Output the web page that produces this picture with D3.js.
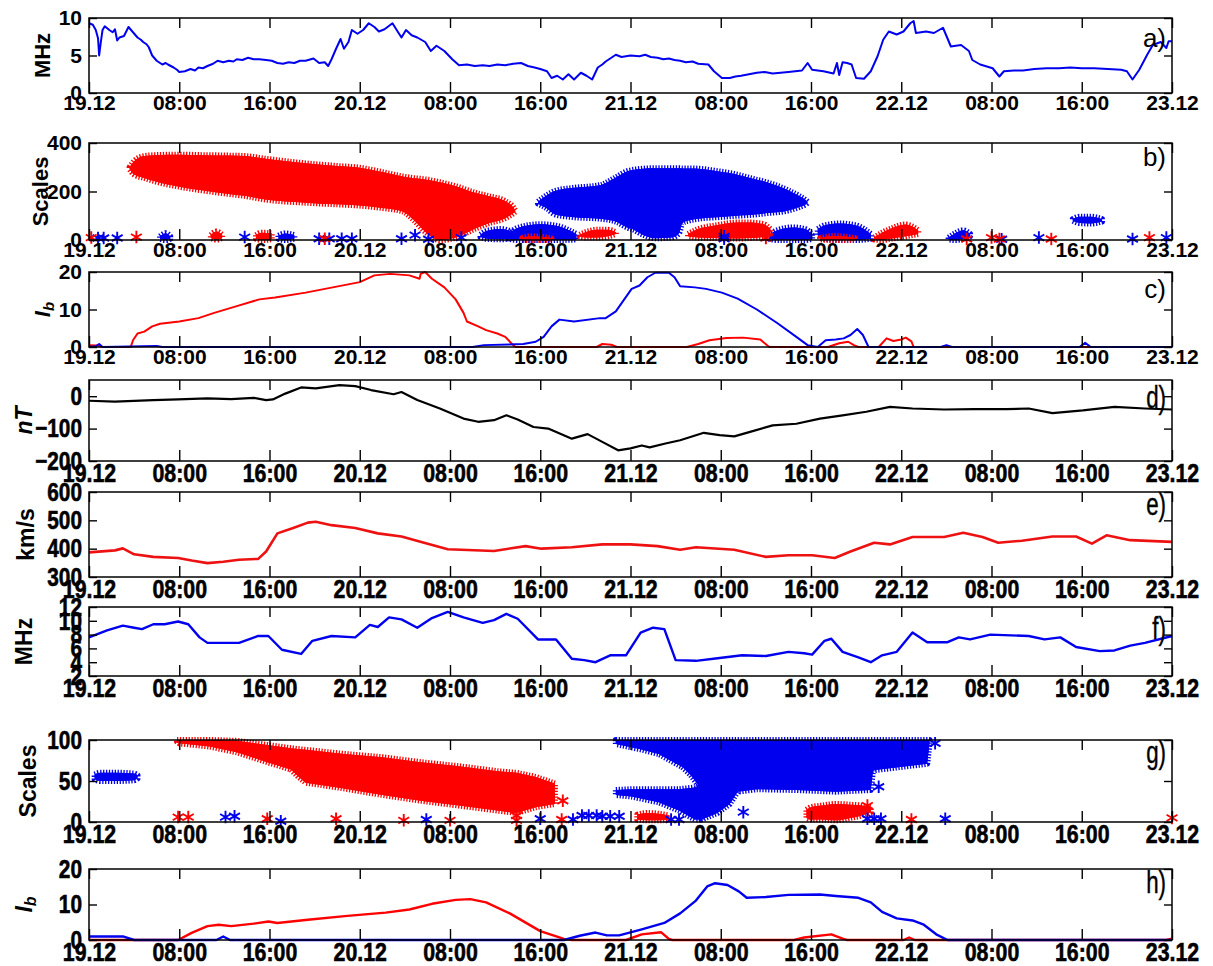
<!DOCTYPE html>
<html>
<head>
<meta charset="utf-8">
<script src="https://cdn.jsdelivr.net/npm/d3@7"></script>
<style>
  body { margin: 0; background: #fff; }
  svg { display: block; }
</style>
</head>
<body>
<svg id="fig" width="1213" height="966"></svg>
<script>
// ---------- time axis (hours since 19.12 00:00 UT) ----------
const tickHours = [0, 8, 16, 24, 32, 40, 48, 56, 64, 72, 80, 88, 96];
const tickLabels = ["19.12", "08:00", "16:00", "20.12", "08:00", "16:00", "21.12",
                    "08:00", "16:00", "22.12", "08:00", "16:00", "23.12"];

// ---------- a) critical frequency, MHz ----------
const foA = [[0,9.3],[0.34,9.1],[0.6,8.4],[0.8,7.3],[0.9,5.0],[1.05,6.8],[1.2,8.4],[1.4,8.9],[1.8,8.4],[2.1,8.1],[2.3,8.5],[2.5,7.0],[2.7,7.4],[3.1,7.6],[3.5,8.8],[3.9,8.1],[4.3,7.4],[4.6,7.1],[4.8,6.8],[5.1,6.5],[5.3,6.1],[5.6,5.0],[6.0,4.3],[6.3,4.0],[6.5,3.8],[6.8,4.0],[7.0,3.8],[7.5,3.4],[7.8,3.1],[8.0,2.8],[8.5,2.9],[9.0,3.2],[9.4,3.0],[9.7,3.4],[10.1,3.3],[10.5,3.6],[11.0,3.9],[11.4,4.3],[11.9,4.1],[12.4,4.3],[12.8,4.2],[13.1,4.5],[13.6,4.4],[14.1,4.7],[14.6,4.5],[15.1,4.5],[15.7,4.4],[16.2,4.3],[16.7,4.0],[17.2,3.9],[17.7,4.1],[18.2,4.0],[18.7,4.3],[19.2,4.3],[19.9,4.6],[20.4,4.0],[20.9,4.1],[21.2,3.6],[21.5,4.5],[21.9,5.9],[22.3,7.2],[22.6,5.9],[23.0,6.8],[23.3,8.4],[23.8,7.9],[24.3,8.4],[24.8,9.3],[25.3,8.8],[25.7,8.2],[26.2,8.5],[26.9,9.3],[27.4,8.1],[27.7,7.4],[28.1,8.4],[28.6,7.7],[29.1,7.4],[29.8,6.8],[30.3,5.6],[30.8,6.3],[31.5,5.6],[32.2,4.5],[32.8,3.7],[33.5,3.8],[34.2,3.6],[34.9,3.7],[35.5,3.6],[36.2,3.8],[36.9,3.7],[37.6,3.9],[38.3,4.0],[38.9,3.6],[39.5,3.4],[40.0,3.2],[40.6,2.9],[41.0,2.0],[41.5,2.3],[42.0,1.8],[42.5,2.5],[43.0,1.8],[43.6,2.7],[44.1,2.3],[44.6,1.8],[45.1,3.4],[45.5,3.8],[45.8,4.2],[46.3,4.7],[46.7,5.1],[47.2,4.8],[48,5.0],[48.8,4.9],[49.3,5.1],[49.8,4.8],[50.4,4.7],[50.9,4.5],[51.4,4.6],[51.9,4.4],[52.4,4.3],[52.9,4.1],[53.5,4.2],[54.0,3.9],[54.9,3.8],[55.4,2.9],[56.1,2.0],[56.8,2.0],[57.3,2.2],[57.8,2.3],[58.5,2.5],[59.2,2.7],[59.9,2.8],[60.6,2.6],[61.3,2.7],[62.0,2.8],[62.6,2.9],[63.2,3.0],[63.7,4.0],[64.1,3.1],[65.1,2.9],[66.0,2.6],[66.3,4.0],[66.5,2.4],[66.8,4.1],[67.2,4.0],[67.6,3.8],[68.0,2.0],[68.7,1.9],[69.3,2.9],[69.9,4.9],[70.4,7.1],[70.9,8.2],[71.6,7.8],[72.2,8.2],[72.8,9.3],[73.1,9.6],[73.3,8.0],[74.2,8.2],[74.9,8.0],[75.7,8.7],[76.4,6.2],[77.3,6.4],[78.0,5.6],[78.3,4.4],[79.0,3.8],[80.1,3.3],[80.7,2.2],[81.1,2.9],[82.0,3.0],[82.8,3.0],[83.8,3.2],[84.9,3.3],[86.0,3.3],[87.0,3.4],[88.0,3.3],[89.1,3.3],[90.3,3.2],[91.5,3.1],[92.0,2.9],[92.5,1.8],[93.1,3.1],[93.8,5.1],[94.3,6.4],[95.0,6.8],[95.5,6.0],[95.7,6.9],[96,6.9]];

// ---------- b) significant scales: regions [t, scaleLow, scaleHigh] ----------
const scalesB_redMain = [[3.6,292,300],[4.0,270,325],[4.9,256,346],[6,240,350],[8,220,352],[10,205,350],[12.4,190,348],[13.8,182,346],[15.8,166,334],[19.2,154,316],[22,147,305],[24,142,298],[26,132,280],[27.8,118,262],[28.8,82,255],[29.8,34,250],[31.1,0,238],[32.5,10,222],[34.2,46,195],[35.5,70,180],[36.9,90,160],[37.6,110,135],[37.8,118,120]];
const scalesB_blueMain = [[39.8,150,158],[40.6,130,185],[41.3,106,202],[43,94,215],[45.3,88,226],[46.7,76,258],[47.8,50,285],[48.1,46,288],[49.1,22,294],[50.2,7,296],[51.6,10,296],[52.3,28,296],[52.6,70,295],[53.3,82,295],[54,88,294],[55.7,94,284],[56.8,98,276],[59.2,106,248],[59.9,110,240],[62,122,204],[63,137,180],[63.6,150,161],[63.7,155,156]];
const scalesB_redSmall = [
  [[10.8,8,20],[11.3,2,35],[11.8,8,22]],
  [[14.8,5,20],[15.3,0,30],[16.2,3,28]],
  [[38.4,0,8],[39.2,0,15],[40.2,0,12],[41,2,6]],
  [[43.5,15,22],[44,10,32],[45,10,42],[46,15,42],[46.7,25,32]],
  [[53.1,15,25],[54,10,45],[55.5,8,60],[57.5,6,72],[58.5,8,72],[59.8,12,65],[60.4,25,45]],
  [[64.8,2,8],[66,0,16],[67.9,2,8]],
  [[69.6,2,10],[70.3,0,30],[71,5,45],[72.4,15,64],[73.5,25,40]]
];
const scalesB_blueSmall = [
  [[6.3,5,15],[6.8,0,28],[7.2,5,15]],
  [[16.8,5,18],[17.4,0,27],[18.2,5,20]],
  [[34.7,12,22],[35.3,5,38],[36.5,3,45],[37.6,10,32]],
  [[37.2,5,25],[38,0,50],[40,0,65],[41.5,0,58],[43.2,2,25]],
  [[60.3,5,20],[61,0,40],[62.4,0,52],[63.5,0,45],[64.1,5,20]],
  [[64.6,20,45],[65.2,5,60],[66.5,0,68],[68,0,60],[69.3,5,25]],
  [[76.2,2,10],[76.8,0,28],[77.5,5,40],[78.1,15,25]],
  [[87.2,80,86],[87.8,70,96],[88.8,68,96],[89.8,76,86]]
];
// isolated significant points [t, scale]
const scalesB_redPts = [[0.2,10],[4.2,12],[20.9,5],[60,8],[77.8,4],[80,10],[80.7,4],[85.3,4],[94,10]];
const scalesB_bluePts = [[0.8,8],[1.3,8],[2.5,8],[13.8,12],[20.4,5],[21.3,5],[22.4,5],[23.3,5],[27.7,5],[28.9,20],[30.1,3],[33,10],[56.3,15],[56.3,5],[80.9,3],[84.2,10],[92.5,4],[95.5,10]];

// ---------- c) index Ib ----------
const ibC_red = [[0,0.5],[0.8,0.4],[1.2,0],[3.7,0],[3.9,1.8],[4.3,3.6],[4.9,4.1],[5.6,5.5],[6.3,6.2],[8,6.8],[9.7,7.7],[11.1,9.1],[13.1,10.9],[15.1,12.7],[16.5,13.2],[19.2,14.5],[21.6,15.9],[24,17.3],[25.3,19.1],[26.7,19.5],[28.4,19.1],[29.3,18.2],[29.4,19.5],[29.8,20],[30.4,18.2],[31.5,15.9],[32.5,12.7],[33.2,9.1],[33.5,6.8],[34.5,5.5],[35.2,4.5],[36.2,3.6],[36.9,2.7],[37.6,0.5],[37.8,0],[45,0],[45.5,0.8],[46.3,0.6],[46.8,0],[53,0],[54,0.8],[55,1.8],[56.5,2.4],[58,2.5],[59.5,2.0],[60.3,0],[65.5,0],[66.5,1.0],[67.3,1.4],[67.8,0.5],[68.2,0],[70,0],[70.7,2.3],[71.3,1.6],[72,2.0],[72.4,2.5],[72.9,1.5],[73.1,0],[96,0]];
const ibC_blue = [[0,0],[0.6,0.2],[0.9,0.8],[1.2,0],[6,0.3],[6.5,0],[34,0],[35,0.5],[38.5,0.8],[39.6,1.4],[40.3,2.7],[41,5.5],[41.7,7.3],[43,6.8],[45.3,7.7],[45.8,7.7],[46.7,9.5],[48.1,15.5],[48.8,16.4],[49.5,18.6],[50.2,19.8],[51.4,19.8],[51.9,18.6],[52.4,16.2],[53.7,15.9],[54.7,15.5],[56.1,14.5],[57.5,12.9],[59.2,10.0],[61,6.4],[62.7,2.7],[63.7,0.5],[64.6,0],[65.3,1.8],[66.2,2.0],[66.9,2.3],[67.5,3.2],[68.1,4.8],[68.6,3.2],[69.1,0],[75.5,0],[76,0.5],[76.5,0],[87.8,0],[88.3,1.1],[88.8,0],[96,0]];

// ---------- d) Dst, nT ----------
const dst = [[0,-14],[2.3,-17],[5.7,-12],[7.9,-10],[10.5,-7],[12.6,-9],[14.6,-5],[15.7,-12],[16.3,-10],[17.4,8],[18.8,27],[20.1,24],[22.2,34],[23.6,31],[25,19],[27,6],[27.7,13],[29.1,-12],[31.1,-38],[33.2,-69],[34.5,-79],[35.9,-74],[37,-59],[38,-72],[39.4,-95],[40.7,-100],[42.8,-131],[44.2,-117],[45.5,-141],[46.9,-167],[48,-161],[49,-152],[49.7,-158],[51.1,-146],[52.4,-136],[54.5,-113],[55.9,-120],[57.2,-124],[58.6,-110],[60.6,-90],[62.7,-85],[64.8,-69],[66.8,-59],[68.9,-48],[71,-33],[73,-38],[75.8,-41],[78.5,-40],[81.3,-40],[83.3,-38],[85.4,-52],[88.1,-44],[90.9,-33],[93.6,-38],[96,-41]];

// ---------- e) solar wind speed, km/s ----------
const vsw = [[0,387],[2.3,394],[3,401],[4,380],[5.7,371],[7.9,367],[9.1,358],[10.5,349],[11.9,354],[13.3,361],[15,364],[15.7,390],[16.7,454],[18.1,473],[19.4,492],[20.1,495],[21.5,483],[23.6,473],[25.6,454],[27.7,443],[29.7,421],[31.8,398],[35.9,392],[38.7,409],[40.1,400],[42.8,405],[45.5,415],[48,415],[50.4,409],[52.4,396],[53.8,405],[57.2,396],[60,371],[62,377],[64.1,377],[66.1,367],[67.5,390],[69.6,421],[71,415],[73,441],[75.8,441],[77.5,456],[79.2,441],[80.6,421],[82.7,428],[85.4,443],[87.5,443],[88.9,418],[90.2,447],[92.3,430],[96,424]];

// ---------- f) critical frequency, MHz ----------
const foF = [[0,7.6],[1.6,8.6],[3,9.3],[4,9.0],[4.7,8.8],[5.7,9.5],[6.7,9.5],[7.9,9.9],[8.8,9.5],[9.8,7.6],[10.5,6.8],[13.3,6.8],[15,7.8],[15.9,7.8],[17.1,5.8],[18.8,5.2],[19.8,7.1],[21.5,7.8],[23.6,7.6],[24.9,9.4],[25.6,9.1],[26.6,10.5],[27.7,10.2],[29.1,9.0],[30.4,10.4],[31.8,11.3],[33.2,10.5],[34.9,9.7],[35.9,10.1],[37,11.0],[38,10.3],[39.8,7.3],[41.4,7.3],[42.8,4.5],[43.9,4.3],[44.9,4.0],[46.2,5.0],[47.6,5.0],[48.9,8.3],[50,9.0],[51,8.8],[52,4.3],[53.8,4.2],[55.9,4.6],[57.9,5.0],[60,4.9],[62,5.5],[63.4,5.3],[64.1,5.1],[65.2,7.1],[65.8,7.4],[66.8,5.5],[68.2,4.7],[69.3,4.0],[70.3,5.0],[71.6,5.5],[73,8.3],[74.3,6.9],[76.1,6.9],[77.1,7.6],[78.1,7.3],[79.9,8.0],[83.3,7.8],[84.7,7.3],[86.1,7.6],[87.5,6.2],[89.6,5.6],[90.9,5.7],[92.3,6.4],[93.6,6.8],[96,7.8]];

// ---------- g) significant scales ----------
const scalesG_redMain = [[7.8,98,100],[8,96,100],[10.7,92,100],[13.1,85,99],[15.8,73,94],[17.9,64,90],[18.5,56,89],[19.2,48,88],[22.6,41,83],[26,33,79],[29.4,26,73],[32.8,20,68],[36.2,14,62],[37.9,11,60],[39.6,18,55],[41.3,22,47]];
const scalesG_blueMain = [[46.7,95,100],[48.8,89,100],[50.5,83,100],[52.6,67,100],[53.3,58,100],[54.0,45,100],[54.3,3,100],[55.7,11,100],[56.8,22,100],[57.5,37,100],[59.2,40,100],[62.7,39,100],[66.2,37,100],[69.3,39,100],[69.5,63,100],[74.3,71,100],[74.5,95,100]];
const scalesG_blueLow = [[46.7,33,39],[48.1,31,40],[50.5,24,40],[52.3,14,40],[53.7,3,42],[54.3,3,45]];
const scalesG_blueLeft = [[0.5,52,58],[1,50,60],[2.5,50,60],[4,51,59],[4.3,53,57]];
const scalesG_redSmall = [
  [[48.6,3,9],[49.5,2,11],[50.5,2,10],[51.4,3,8]],
  [[63.6,5,15],[64,3,18],[65,3,20],[66.2,2,22],[67.5,5,21],[68.5,8,20],[69.3,12,18]]
];
const scalesG_redPts = [[7.9,6],[8.8,6],[15.8,4],[21.9,4],[27.9,2],[32,2],[37.9,2],[37.9,8],[41.9,3],[42,26],[69,20],[72.9,3],[96,5]];
const scalesG_bluePts = [[12.1,6],[12.9,7],[17,1],[29.9,3],[40,4],[42.9,3],[43.7,8],[44.3,8],[45,8],[45.5,7],[46.2,7],[47,7],[51.6,3],[52.3,3],[58,12],[69,4],[69.6,4],[70.2,4],[70,43],[75,96],[75.9,4]];

// ---------- h) index Ib ----------
const ibH_red = [[0,0],[7.9,0],[9.1,2],[10.5,3.9],[11.5,4.3],[12.6,3.9],[14.6,4.6],[15.9,5.2],[16.7,4.8],[19.4,5.7],[22.9,6.8],[26.3,7.7],[28.4,8.6],[30.4,10.2],[32.5,11.3],[33.8,11.5],[35.2,10.6],[37.3,7.5],[40,2.5],[42.1,0.3],[42.8,0],[47.6,0],[49,1.6],[50.7,2.2],[51.4,0.3],[51.7,0],[62.5,0],[63.4,0.7],[65.8,1.6],[66.8,0.4],[67.2,0],[72.2,0],[72.7,0.7],[73.2,0],[95.5,0],[96,0.4]];
const ibH_blue = [[0,1.0],[3,1.0],[4,0],[11.3,0],[11.9,1.0],[12.5,0],[42.1,0],[43.5,1.2],[44.9,2.1],[45.9,1.3],[47,1.3],[49,3.0],[51,4.8],[52.4,7.5],[53.8,11.1],[54.8,15.1],[55.5,16.0],[56.6,15.5],[57.6,13.7],[58.3,11.9],[60,12.1],[62,12.7],[64.8,12.8],[66.2,12.4],[68.2,11.9],[69.3,10.6],[70.3,7.9],[71.6,6.1],[73,5.5],[74,4.3],[75.1,1.6],[76.1,0],[96,0]];

// ---------- drawing ----------
const RED = "#ff0000", BLUE = "#0000ee";
const svg = d3.select("#fig");
const x = d3.scaleLinear().domain([0, 96]).range([89, 1172]);
const FONT = "'Liberation Sans', Arial, sans-serif";

// condensed, heavy lettering for the lower block: squeeze glyphs horizontally
function condense(sel, k) {
  sel.each(function () {
    const L = this.getComputedTextLength();
    if (L > 0) d3.select(this).attr("textLength", L * k).attr("lengthAdjust", "spacingAndGlyphs");
  });
}

const panels = [
  {id:"a", top:18,  bottom:93,  domain:[0,10],     ticks:[0,5,10],          label:"MHz",    narrow:false, ly:38,  lx:42},
  {id:"b", top:143, bottom:240, domain:[0,400],    ticks:[0,200,400],       label:"Scales", narrow:false, ly:157, lx:40},
  {id:"c", top:272, bottom:347, domain:[0,20],     ticks:[0,10,20],         label:"Ib",     narrow:false, ly:289, lx:42},
  {id:"d", top:380, bottom:461, domain:[-200,50],  ticks:[-200,-100,0],     label:"nT",     narrow:true,  ly:397, lx:24},
  {id:"e", top:492, bottom:577, domain:[300,600],  ticks:[300,400,500,600], label:"km/s",   narrow:true,  ly:504, lx:26},
  {id:"f", top:607, bottom:676, domain:[2,12],     ticks:[2,4,6,8,10,12],   label:"MHz",    narrow:true,  ly:628, lx:24},
  {id:"g", top:740, bottom:822, domain:[0,100],    ticks:[0,50,100],        label:"Scales", narrow:true,  ly:752, lx:28},
  {id:"h", top:869, bottom:940, domain:[0,20],     ticks:[0,10,20],         label:"Ib",     narrow:true,  ly:882, lx:24}
];

const P = {};
panels.forEach(p => {
  const y = d3.scaleLinear().domain(p.domain).range([p.bottom, p.top]);
  const g = svg.append("g").attr("class", "panel-" + p.id);
  const plot = g.append("g");
  const fs = p.narrow ? 26 : 21;

  // bottom axis with labels, ticks pointing inward
  const ax = g.append("g").attr("transform", `translate(0,${p.bottom})`)
    .call(d3.axisBottom(x).tickValues(tickHours).tickFormat((d, i) => tickLabels[i])
      .tickSizeInner(-11).tickSizeOuter(0).tickPadding(p.narrow ? 3 : 2));
  ax.select(".domain").remove();
  ax.selectAll("line").attr("stroke", "#000").attr("stroke-width", 1.4);
  ax.selectAll("text").attr("font-family", FONT).attr("font-weight", "bold")
    .attr("font-size", fs).attr("fill", "#000");

  const axT = g.append("g").attr("transform", `translate(0,${p.top})`)
    .call(d3.axisTop(x).tickValues(tickHours).tickFormat("").tickSizeInner(-10).tickSizeOuter(0));
  axT.select(".domain").remove();
  axT.selectAll("line").attr("stroke", "#000").attr("stroke-width", 1.4);

  const axL = g.append("g").attr("transform", `translate(${x.range()[0]},0)`)
    .call(d3.axisLeft(y).tickValues(p.ticks).tickSizeInner(-8).tickSizeOuter(0).tickPadding(7));
  axL.select(".domain").remove();
  axL.selectAll("line").attr("stroke", "#000").attr("stroke-width", 1.4);
  axL.selectAll("text").attr("font-family", FONT).attr("font-weight", "bold")
    .attr("font-size", fs).attr("fill", "#000");

  const axR = g.append("g").attr("transform", `translate(${x.range()[1]},0)`)
    .call(d3.axisRight(y).tickValues(p.ticks).tickFormat("").tickSizeInner(-8).tickSizeOuter(0));
  axR.select(".domain").remove();
  axR.selectAll("line").attr("stroke", "#000").attr("stroke-width", 1.4);

  g.append("rect").attr("x", x.range()[0]).attr("y", p.top)
    .attr("width", x.range()[1] - x.range()[0]).attr("height", p.bottom - p.top)
    .attr("fill", "none").attr("stroke", "#000").attr("stroke-width", 1.5);

  // panel letter
  const letter = g.append("text").attr("x", 1166).attr("y", p.ly).attr("text-anchor", "end")
    .attr("dominant-baseline", "central")
    .attr("font-family", FONT).attr("font-size", p.narrow ? 31 : 26)
    .text(p.id + ")");

  // y-axis title
  const t = g.append("text").attr("transform", `translate(${p.lx},${(p.top + p.bottom) / 2}) rotate(-90)`)
    .attr("text-anchor", "middle").attr("dominant-baseline", "central")
    .attr("font-family", FONT).attr("font-weight", "bold").attr("font-size", p.narrow ? 23 : 22);
  if (p.label === "Ib") {
    t.append("tspan").attr("font-style", "italic").text("I");
    t.append("tspan").attr("font-style", "italic").attr("font-size", p.narrow ? 16 : 15)
      .attr("dy", 6).text("b");
  } else if (p.label === "nT") {
    t.attr("font-style", "italic").text("nT");
  } else {
    t.text(p.label);
  }

  if (p.narrow) {
    condense(ax.selectAll("text"), 0.82);
    condense(axL.selectAll("text"), 0.8);
    condense(letter, 0.72);
    ax.selectAll("text").attr("stroke", "#000").attr("stroke-width", 0.6);
    axL.selectAll("text").attr("stroke", "#000").attr("stroke-width", 0.6);
    letter.attr("stroke", "#000").attr("stroke-width", 0.4);
  }
  P[p.id] = { y, plot };
});

// helpers
function drawLine(id, data, color, width) {
  const { y, plot } = P[id];
  plot.append("path").datum(data)
    .attr("d", d3.line().x(d => x(d[0])).y(d => y(d[1])))
    .attr("fill", "none").attr("stroke", color).attr("stroke-width", width)
    .attr("stroke-linejoin", "round");
}
function drawRegion(id, data, color, curve) {
  const { y, plot } = P[id];
  const area = d3.area().x(d => x(d[0])).y0(d => y(d[1])).y1(d => y(d[2]))
    .curve(curve || d3.curveMonotoneX);
  // asterisk fringe along the boundary of the significance region
  plot.append("path").datum(data).attr("d", area)
    .attr("fill", color).attr("stroke", color).attr("stroke-width", 6)
    .attr("stroke-dasharray", "1.3 1.6").attr("stroke-linejoin", "round");
  plot.append("path").datum(data).attr("d", area).attr("fill", color);
}
function drawStars(id, data, color) {
  const { y, plot } = P[id];
  const sym = d3.symbol().type(d3.symbolAsterisk).size(110);
  plot.selectAll(null).data(data).join("path")
    .attr("transform", d => `translate(${x(d[0])},${y(d[1])})`)
    .attr("d", sym).attr("fill", "none").attr("stroke", color).attr("stroke-width", 1.9);
}

// a)
drawLine("a", foA, BLUE, 2);

// b)
drawRegion("b", scalesB_redMain, RED);
drawRegion("b", scalesB_blueMain, BLUE);
scalesB_blueSmall.forEach(r => drawRegion("b", r, BLUE));
scalesB_redSmall.forEach(r => drawRegion("b", r, RED));
drawStars("b", scalesB_bluePts, BLUE);
drawStars("b", scalesB_redPts, RED);

// c)
drawLine("c", ibC_red, RED, 2);
drawLine("c", ibC_blue, BLUE, 2);

// d), e), f)
drawLine("d", dst, "#000", 2.2);
drawLine("e", vsw, "#ee1111", 2.6);
drawLine("f", foF, BLUE, 2.4);

// g)
drawRegion("g", scalesG_redMain, RED, d3.curveLinear);
drawRegion("g", scalesG_blueMain, BLUE, d3.curveLinear);
drawRegion("g", scalesG_blueLow, BLUE, d3.curveLinear);
drawRegion("g", scalesG_blueLeft, BLUE);
scalesG_redSmall.forEach(r => drawRegion("g", r, RED));
drawStars("g", scalesG_bluePts, BLUE);
drawStars("g", scalesG_redPts, RED);

// h)
drawLine("h", ibH_red, RED, 2.4);
drawLine("h", ibH_blue, BLUE, 2.4);
</script>
</body>
</html>
